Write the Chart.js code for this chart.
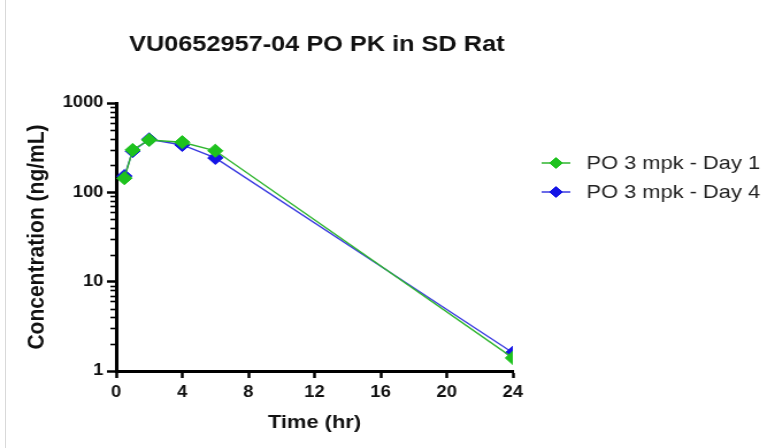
<!DOCTYPE html>
<html>
<head>
<meta charset="utf-8">
<script src="https://cdn.jsdelivr.net/npm/chart.js@4.4.1/dist/chart.umd.min.js"></script>
<style>
  html, body { margin: 0; padding: 0; background: #fff; width: 767px; height: 448px; overflow: hidden; }
  #edge { position: absolute; left: 5px; top: 0; width: 1px; height: 448px; background: #d9d9d9; }
  #wrap { position: absolute; left: 0; top: 0; width: 667px; height: 448px; transform: scale(1.1499, 1); transform-origin: 0 0; }
  canvas { display: block; }
</style>
</head>
<body>
<div id="edge"></div>
<div id="wrap"><canvas id="c" width="667" height="448" style="width:667px;height:448px"></canvas></div>
<script>
// ---- data ----
const chartTitle = 'VU0652957-04 PO PK in SD Rat';
const xTitle = 'Time (hr)';
const yTitle = 'Concentration (ng/mL)';
const timeHr = [0.5, 1, 2, 4, 6, 24];
const day1Conc = [144, 298, 386, 364, 292, 1.4];
const day4Conc = [152, 290, 392, 339, 243, 1.6];
const seriesNames = ['PO 3 mpk - Day 1', 'PO 3 mpk - Day 4'];
const xTicks = [0, 4, 8, 12, 16, 20, 24];
const yMajorTicks = [1, 10, 100, 1000];

const FONT = "'Liberation Sans', Arial, sans-serif";
const GREEN = '#1ec21e';
const GREEN_LINE = '#2fb52f';
const BLUE = '#1414e6';
const BLUE_LINE = '#3a3ae0';

const titlePlugin = {
  id: 'customTitle',
  afterDraw(chart) {
    const {ctx, chartArea} = chart;
    ctx.save();
    ctx.font = 'bold 22px ' + FONT;
    ctx.fillStyle = '#111';
    ctx.textAlign = 'center';
    ctx.textBaseline = 'middle';
    ctx.fillText(chartTitle, (chartArea.left + chartArea.right) / 2 + 2, 45);
    ctx.restore();
  }
};

const minorTickPlugin = {
  id: 'minorTicks',
  afterDraw(chart) {
    const ys = chart.scales.y;
    const {ctx, chartArea} = chart;
    ctx.save();
    ctx.strokeStyle = '#000';
    ctx.lineWidth = 1.6;
    for (let d = 1; d < ys.max; d *= 10) {
      for (let m = 2; m <= 9; m++) {
        const v = d * m;
        if (v > ys.max) break;
        const py = Math.round(ys.getPixelForValue(v)) + 0.5;
        ctx.beginPath();
        ctx.moveTo(chartArea.left - 5, py);
        ctx.lineTo(chartArea.left, py);
        ctx.stroke();
      }
    }
    ctx.restore();
  }
};

const legendPlugin = {
  id: 'customLegend',
  afterDraw(chart) {
    const {ctx} = chart;
    ctx.save();
    chart.data.datasets.forEach((ds, i) => {
      const y = 163 + i * 29;
      ctx.strokeStyle = ds.borderColor;
      ctx.lineWidth = 1.5;
      ctx.beginPath();
      ctx.moveTo(471, y);
      ctx.lineTo(496, y);
      ctx.stroke();
      ctx.fillStyle = ds.pointBackgroundColor;
      ctx.strokeStyle = ds.pointBorderColor;
      ctx.lineWidth = 1;
      Chart.helpers.drawPoint(ctx, {pointStyle: 'rectRot', radius: 5.5, borderWidth: 1}, 483.5, y);
      ctx.fillStyle = '#222';
      ctx.font = '19px ' + FONT;
      ctx.textAlign = 'left';
      ctx.textBaseline = 'middle';
      ctx.fillText(ds.label, 510, y + 1);
    });
    ctx.restore();
  }
};

const mkData = (arr) => timeHr.map((t, i) => ({x: t, y: arr[i]}));

new Chart(document.getElementById('c'), {
  type: 'line',
  data: {
    datasets: [
      {
        label: seriesNames[0],
        data: mkData(day1Conc),
        borderColor: GREEN_LINE,
        borderWidth: 1.4,
        pointStyle: 'rectRot',
        pointRadius: 6.6,
        pointBackgroundColor: GREEN,
        pointBorderColor: GREEN,
        pointBorderWidth: 1,
        tension: 0
      },
      {
        label: seriesNames[1],
        data: mkData(day4Conc),
        borderColor: BLUE_LINE,
        borderWidth: 1.4,
        pointStyle: 'rectRot',
        pointRadius: 6.6,
        pointBackgroundColor: BLUE,
        pointBorderColor: BLUE,
        pointBorderWidth: 1,
        tension: 0
      }
    ]
  },
  options: {
    responsive: false,
    animation: false,
    devicePixelRatio: 1,
    layout: { padding: { left: 0, top: 103, right: 221, bottom: 0 } },
    plugins: { legend: { display: false }, tooltip: { enabled: false }, title: { display: false } },
    scales: {
      x: {
        type: 'linear',
        min: 0, max: 24,
        afterFit(scale) { scale.height = 77; },
        afterBuildTicks(scale) { scale.ticks = xTicks.map(v => ({value: v})); },
        border: { display: true, color: '#000', width: 3 },
        grid: { drawOnChartArea: false, drawTicks: true, tickLength: 7, tickWidth: 2.5, tickColor: '#000' },
        ticks: { color: '#111', font: { family: FONT, size: 16, weight: 'bold' }, padding: 5, autoSkip: false, maxRotation: 0 },
        title: { display: true, text: xTitle, color: '#111', font: { family: FONT, size: 19, weight: 'bold' }, padding: { top: 0, bottom: 14 } }
      },
      y: {
        type: 'logarithmic',
        min: 1, max: 1000,
        afterFit(scale) { scale.width = 101; },
        afterBuildTicks(scale) { scale.ticks = yMajorTicks.map(v => ({value: v})); },
        border: { display: true, color: '#000', width: 3 },
        grid: { drawOnChartArea: false, drawTicks: true, tickLength: 8, tickWidth: 2.5, tickColor: '#000' },
        ticks: {
          color: '#111', font: { family: FONT, size: 16, weight: 'bold' }, padding: 3, autoSkip: false,
          callback: (v) => String(v)
        },
        title: { display: true, text: yTitle, color: '#111', font: { family: FONT, size: 21, weight: 'bold' }, padding: { top: 20, bottom: 0 } }
      }
    }
  },
  plugins: [titlePlugin, minorTickPlugin, legendPlugin]
});
</script>
</body>
</html>
